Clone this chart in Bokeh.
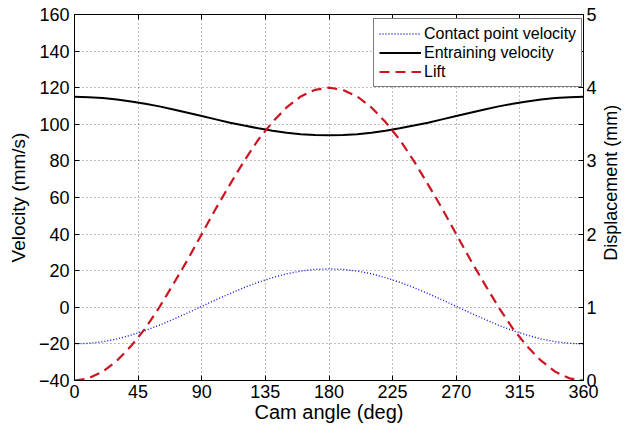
import math
from bokeh.plotting import figure
from bokeh.layouts import row
from bokeh.models import Range1d, LinearAxis, FixedTicker, Legend, LegendItem
from bokeh.core.properties import value
from bokeh.embed import file_html
from bokeh.resources import INLINE

# ---- data ----
cam_angle = [0, 10, 20, 30, 40, 50, 60, 70, 80, 90, 100, 110, 120, 130, 140, 150, 160, 170, 180,
             190, 200, 210, 220, 230, 240, 250, 260, 270, 280, 290, 300, 310, 320, 330, 340, 350, 360]
contact_velocity = [-20.0, -19.7, -18.8, -17.3, -15.2, -12.7, -9.8, -6.5, -3.1, 0.5, 4.1, 7.5, 10.8,
                    13.7, 16.2, 18.3, 19.8, 20.7, 21.0, 20.7, 19.8, 18.3, 16.2, 13.7, 10.8, 7.5, 4.1,
                    0.5, -3.1, -6.5, -9.8, -12.7, -15.2, -17.3, -18.8, -19.7, -20.0]
entraining_velocity = [115.0, 114.8, 114.4, 113.6, 112.5, 111.2, 109.8, 108.1, 106.3, 104.5, 102.7,
                       100.9, 99.3, 97.8, 96.5, 95.4, 94.6, 94.2, 94.0, 94.2, 94.6, 95.4, 96.5, 97.8,
                       99.3, 100.9, 102.7, 104.5, 106.3, 108.1, 109.8, 111.2, 112.5, 113.6, 114.4,
                       114.8, 115.0]
lift = [0.0, 0.03, 0.12, 0.27, 0.47, 0.71, 1.0, 1.32, 1.65, 2.0, 2.35, 2.68, 3.0, 3.29, 3.53, 3.73,
        3.88, 3.97, 4.0, 3.97, 3.88, 3.73, 3.53, 3.29, 3.0, 2.68, 2.35, 2.0, 1.65, 1.32, 1.0, 0.71,
        0.47, 0.27, 0.12, 0.03, 0.0]

x_ticks = [0, 45, 90, 135, 180, 225, 270, 315, 360]
y_ticks = [-40, -20, 0, 20, 40, 60, 80, 100, 120, 140, 160]
disp_ticks = [0, 1, 2, 3, 4, 5]
disp_minor_ticks = [0.5, 1.5, 2.5, 3.5, 4.5]
right_title = "Displacement (mm)"

FONT = "Liberation Sans"

p = figure(width=599, height=428, x_range=Range1d(0, 360), y_range=Range1d(-40, 160),
           output_backend="svg", toolbar_location=None,
           min_border_left=74, min_border_right=13, min_border_top=14, min_border_bottom=48)
p.extra_y_ranges = {"disp": Range1d(0, 5)}
p.background_fill_color = "white"
p.border_fill_color = "white"
p.outline_line_color = "black"
p.outline_line_width = 1
p.outline_line_alpha = 1

def style_axis(ax, size="18px", title_size="19px"):
    ax.axis_line_color = "black"
    ax.major_tick_line_color = "black"
    ax.minor_tick_line_color = "black"
    ax.major_tick_in = 5
    ax.major_tick_out = 0
    ax.minor_tick_in = 0
    ax.minor_tick_out = 0
    ax.major_label_text_font = FONT
    ax.major_label_text_font_size = size
    ax.major_label_text_color = "black"
    ax.axis_label_text_font = FONT
    ax.axis_label_text_font_size = title_size
    ax.axis_label_text_font_style = "normal"
    ax.axis_label_text_color = "black"

xa = p.xaxis[0]
xa.ticker = FixedTicker(ticks=x_ticks)
xa.axis_label = "Cam angle (deg)"
style_axis(xa, title_size="20px")
xa.major_label_standoff = 4
xa.axis_label_standoff = 0

ya = p.yaxis[0]
ya.ticker = FixedTicker(ticks=y_ticks)
ya.axis_label = "Velocity (mm/s)"
style_axis(ya)
ya.major_label_standoff = 5
ya.axis_label_standoff = 7

ra = LinearAxis(y_range_name="disp",
                ticker=FixedTicker(ticks=disp_ticks, minor_ticks=disp_minor_ticks))
style_axis(ra)
ra.minor_tick_in = 5
ra.major_label_standoff = 3
p.add_layout(ra, "right")

ta = LinearAxis(ticker=FixedTicker(ticks=x_ticks))
style_axis(ta)
ta.major_label_overrides = {t: "" for t in x_ticks}
ta.major_label_standoff = 0
p.add_layout(ta, "above")

p.xgrid.ticker = FixedTicker(ticks=x_ticks)
p.ygrid.ticker = FixedTicker(ticks=y_ticks)
for g in (p.xgrid, p.ygrid):
    g.grid_line_color = "black"
    g.grid_line_alpha = 0.5
    g.grid_line_dash = "1 3"
    g.grid_line_width = 1

r_blue = p.line(cam_angle, contact_velocity, line_color="#1010e0", line_dash="1 2", line_width=1.4)
r_black = p.line(cam_angle, entraining_velocity, line_color="black", line_width=2)
r_red = p.line(cam_angle, lift, y_range_name="disp", line_color="#cc1420",
               line_dash="10 6", line_width=2.2)

legend = Legend(items=[LegendItem(label="Contact point velocity", renderers=[r_blue]),
                       LegendItem(label="Entraining velocity", renderers=[r_black]),
                       LegendItem(label="Lift", renderers=[r_red])],
                location=(299, 293))
legend.margin = 0
legend.padding = 5
legend.spacing = 0
legend.glyph_width = 42
legend.glyph_height = 19
legend.label_height = 19
legend.label_standoff = 3
legend.label_text_font = FONT
legend.label_text_font_size = "16px"
legend.label_text_color = "black"
legend.border_line_color = "black"
legend.border_line_width = 1
legend.background_fill_color = "white"
legend.background_fill_alpha = 1
p.add_layout(legend)

# narrow strip holding the right-hand axis title, reading bottom-to-top
p2 = figure(width=23, height=428, x_range=Range1d(0, 1), y_range=Range1d(0, 1),
            output_backend="svg", toolbar_location=None, min_border=0)
p2.axis.visible = False
p2.grid.visible = False
p2.outline_line_color = None
p2.background_fill_color = "white"
p2.border_fill_color = "white"
p2.text(x=[0.5], y=[0.54], text=[right_title], angle=math.pi / 2,
        text_align="center", text_baseline="middle", text_font=value(FONT),
        text_font_size="18px", text_color="black")

layout = row(p, p2, spacing=0)
open("out.html", "w").write(file_html(layout, INLINE))
